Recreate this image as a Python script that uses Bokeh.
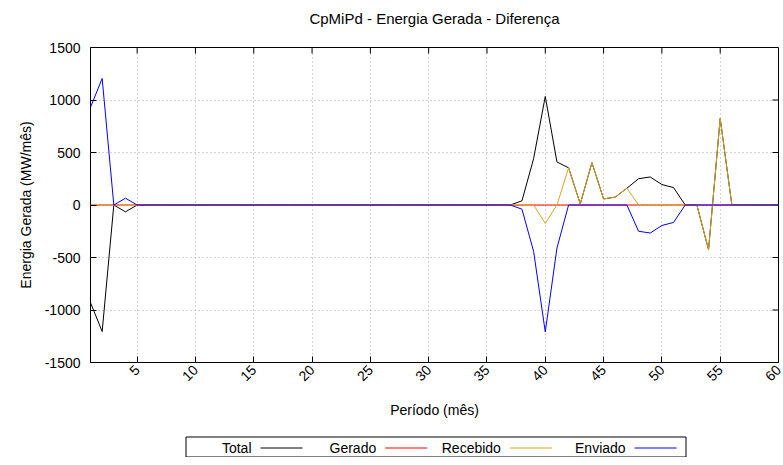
import math
from bokeh.plotting import figure
from bokeh.models import Range1d, FixedTicker, ColumnDataSource
from bokeh.layouts import column
from bokeh.embed import file_html
from bokeh.resources import INLINE
from bokeh.core.properties import value

# ---------------- data ----------------
periodo = list(range(1, 61))

total = [
    -930, -1205, 0, -65, 0, 0, 0, 0, 0, 0,
    0, 0, 0, 0, 0, 0, 0, 0, 0, 0,
    0, 0, 0, 0, 0, 0, 0, 0, 0, 0,
    0, 0, 0, 0, 0, 0, 0, 40, 442, 1034,
    410, 354, 10, 403, 58, 75, 160, 250, 267, 195,
    166, 0, 0, -426, 825, 0, 0, 0, 0, 0,
]
gerado = [
    0, 0, 0, 0, 0, 0, 0, 0, 0, 0,
    0, 0, 0, 0, 0, 0, 0, 0, 0, 0,
    0, 0, 0, 0, 0, 0, 0, 0, 0, 0,
    0, 0, 0, 0, 0, 0, 0, 0, 0, 0,
    0, 0, 0, 0, 0, 0, 0, 0, 0, 0,
    0, 0, 0, 0, 0, 0, 0, 0, 0, 0,
]
recebido = [
    0, 0, 0, 0, 0, 0, 0, 0, 0, 0,
    0, 0, 0, 0, 0, 0, 0, 0, 0, 0,
    0, 0, 0, 0, 0, 0, 0, 0, 0, 0,
    0, 0, 0, 0, 0, 0, 0, 0, 0, -175,
    0, 354, 10, 403, 58, 75, 160, 0, 0, 0,
    0, 0, 0, -426, 825, 0, 0, 0, 0, 0,
]
enviado = [
    930, 1205, 0, 65, 0, 0, 0, 0, 0, 0,
    0, 0, 0, 0, 0, 0, 0, 0, 0, 0,
    0, 0, 0, 0, 0, 0, 0, 0, 0, 0,
    0, 0, 0, 0, 0, 0, 0, -40, -442, -1209,
    -410, 0, 0, 0, 0, 0, 0, -250, -267, -195,
    -166, 0, 0, 0, 0, 0, 0, 0, 0, 0,
]

title_text = "CpMiPd - Energia Gerada - Diferença"
x_label = "Período (mês)"
y_label = "Energia Gerada (MW/mês)"
series_names = ["Total", "Gerado", "Recebido", "Enviado"]
series_colors = ["#000000", "#ff0000", "#daa520", "#0000ff"]
x_ticks = [5, 10, 15, 20, 25, 30, 35, 40, 45, 50, 55, 60]
y_ticks = [-1500, -1000, -500, 0, 500, 1000, 1500]

FONT = "Liberation Sans"
W = 783
BL, BR = 90, 5  # frame borders (px)


def strip(height):
    """A blank figure whose frame is aligned with the main plot; x in page pixels, y downward."""
    f = figure(width=W, height=height, x_range=Range1d(BL, W - BR), y_range=Range1d(height, 0),
               output_backend="svg", toolbar_location=None,
               min_border_left=BL, min_border_right=BR, min_border_top=0, min_border_bottom=0,
               outline_line_color=None)
    f.xaxis.visible = False
    f.yaxis.visible = False
    f.xgrid.visible = False
    f.ygrid.visible = False
    return f


# ---------------- title strip ----------------
TH = 40
tfig = strip(TH)
tfig.text(x=[(BL + W - BR) / 2], y=[17.5], text=[title_text], text_align="center",
          text_baseline="middle", text_font=value(FONT), text_font_size="15px",
          text_color="black")

# ---------------- main figure ----------------
x0, x1 = 1, 60
y0, y1 = -1500, 1500
p = figure(width=W, height=391, x_range=Range1d(x0, x1), y_range=Range1d(y0, y1),
           output_backend="svg", toolbar_location=None,
           min_border_left=BL, min_border_right=BR, min_border_top=7, min_border_bottom=69)
p.outline_line_color = "black"
p.outline_line_width = 1
p.background_fill_color = "white"
p.border_fill_color = "white"


def style_axis(ax, ticks):
    ax.ticker = FixedTicker(ticks=ticks)
    ax.major_tick_in = 6
    ax.major_tick_out = 0
    ax.minor_tick_line_color = None
    ax.axis_line_color = None
    ax.major_tick_line_color = "black"
    ax.major_label_text_font = FONT
    ax.major_label_text_font_size = "14px"
    ax.major_label_text_color = "black"
    ax.major_label_overrides = {t: str(t) for t in ticks}
    ax.axis_label_text_font = FONT
    ax.axis_label_text_font_size = "14px"
    ax.axis_label_text_font_style = "normal"
    ax.axis_label_text_color = "black"


style_axis(p.xaxis[0], x_ticks)
style_axis(p.yaxis[0], y_ticks)
p.xaxis.axis_label = x_label
p.yaxis.axis_label = y_label
p.xaxis.major_label_orientation = math.pi / 4
p.xaxis.major_label_standoff = 5
p.xaxis.axis_label_standoff = 13
p.yaxis.major_label_standoff = 10
p.yaxis.axis_label_standoff = 8

# mirror ticks (inward) on top and right edges
p.ray(x=x_ticks[:-1], y=[y1] * (len(x_ticks) - 1), length=6, length_units="screen",
      angle=-math.pi / 2, line_color="black", line_width=1)
p.ray(x=[x1] * (len(y_ticks) - 2), y=y_ticks[1:-1], length=6, length_units="screen",
      angle=math.pi, line_color="black", line_width=1)

p.xgrid.ticker = FixedTicker(ticks=x_ticks[:-1])
p.ygrid.ticker = FixedTicker(ticks=y_ticks[1:-1])
for g in (p.xgrid, p.ygrid):
    g.grid_line_color = "#a8a8a8"
    g.grid_line_dash = "1 3"
    g.grid_line_width = 1

src = ColumnDataSource(dict(x=periodo, Total=total, Gerado=gerado,
                            Recebido=recebido, Enviado=enviado))
for name, col in zip(series_names, series_colors):
    p.line("x", name, source=src, line_color=col, line_width=1)

# ---------------- legend strip ----------------
LH = 26
leg = strip(LH)
step = 124.7
lsrc = ColumnDataSource(dict(
    name=series_names,
    color=series_colors,
    tx=[251 + i * step for i in range(4)],
    sx0=[260 + i * step for i in range(4)],
    sx1=[302 + i * step for i in range(4)],
    ty=[16] * 4,
    sy=[16.5] * 4,
))
leg.quad(left=185.5, right=685.5, top=5.5, bottom=25.5,
         fill_color=None, line_color="black", line_width=1)
leg.text(x="tx", y="ty", text="name", source=lsrc, text_align="right",
         text_baseline="middle", text_font=value(FONT), text_font_size="14px",
         text_color="black")
leg.segment(x0="sx0", y0="sy", x1="sx1", y1="sy", source=lsrc, line_color="color",
            line_width=1)

layout = column(tfig, p, leg, spacing=0)
open("out.html", "w").write(file_html(layout, INLINE))
